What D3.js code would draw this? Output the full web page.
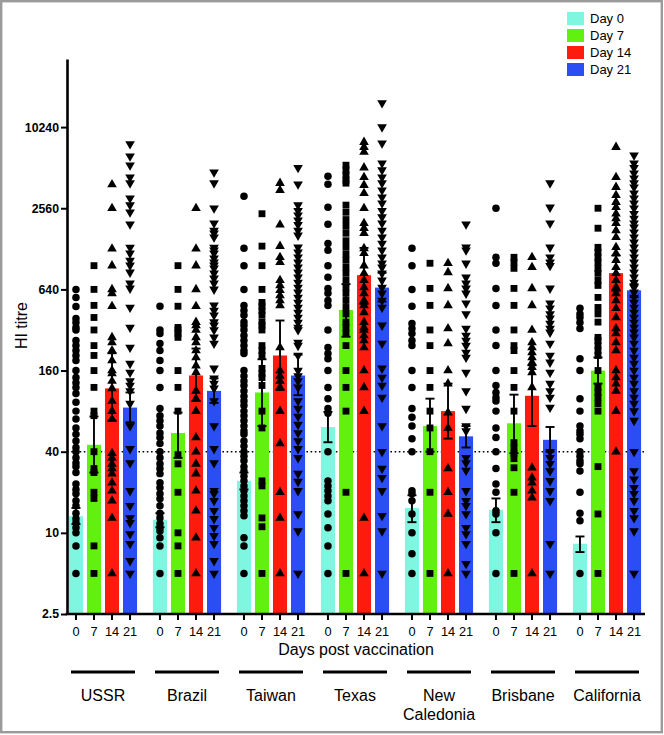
<!DOCTYPE html>
<html><head><meta charset="utf-8">
<script src="https://cdn.jsdelivr.net/npm/d3@7/dist/d3.min.js"></script>
<style>body{margin:0;background:#fff}svg{display:block;font-family:"Liberation Sans",Arial,sans-serif}</style>
</head><body><svg id="chart" width="664" height="735"></svg>
<script>
// ---------- data ----------
const strains = ["USSR", "Brazil", "Taiwan", "Texas", "New Caledonia", "Brisbane", "California"];
const days = ["0", "7", "14", "21"];
const dayLabels = ["Day 0", "Day 7", "Day 14", "Day 21"];
const dayColors = ["#7ff7e0", "#62f00e", "#fd1b0d", "#2a4df4"];
const yTicks = [2.5, 10, 40, 160, 640, 2560, 10240];
const threshold = 40;

// geometric mean titres per strain
const meanDay0  = [13.3, 12.5, 24.3, 61, 15.3, 14.8, 8.3];
const meanDay7  = [45, 55, 110, 450, 62, 65, 160];
const meanDay14 = [118, 147, 207, 815, 80, 104, 845];
const meanDay21 = [85, 113, 147, 660, 52, 49, 630];
// error bar ends
const hiDay0  = [15.3, 14, 28, 79, 19, 18, 9.4];
const loDay0  = [11.6, 11, 21, 47, 12, 12, 7.2];
const hiDay7  = [73, 78, 194, 700, 99, 106, 200];
const loDay7  = [28, 36, 62, 285, 40, 39, 128];
const hiDay14 = [215, 233, 376, 1300, 128, 175, 1140];
const loDay14 = [68, 95, 115, 500, 50, 62, 625];
const hiDay21 = [110, 140, 210, 850, 62, 61, 700];
const loDay21 = [66, 92, 105, 520, 43, 40, 560];

// individual titres [day0, day7, day14, day21]
const ussr = [
  [640,558,478,390,364,334,320,267,245,225,207,190,160,142,130,120,108,93,80,70,60,54,48,43,40,36,33,31,28,23,21,19.5,17.3,15.9,14,12.7,11.9,10.9,10,8,5],
  [960,640,487,396,320,245,207,160,120,80,74,40,30,28,20,18,8,5],
  [3840,2560,1280,960,640,598,480,282,258,225,190,160,152,134,118,95,80,70,39,36,32.5,30,27.5,23.5,20.5,17.3,12.9,5],
  [7680,6230,5340,4350,3930,3040,2700,2390,1950,1310,1185,1050,965,856,709,651,470,334,237,180,155,134,124,113,91,62,42,33,20.5,15.9,12.9,11.9,9.8,8.3,6.2,5]
];
const brazil = [
  [480,320,301,254,225,190,160,120,83.5,74,68,62,55,51,46,40,36,32.5,30,27.5,23.5,21.6,19.5,17.9,15.9,14,12.9,11.7,10.9,10.3,9.2,8,5],
  [960,640,480,334,320,301,282,160,120,80,38,32.5,20,10,8,5],
  [2560,1280,960,640,480,366,346,320,282,258,225,200,174,155,113,99,80,51,40,32.5,27.5,20.5,14.6,9.2,5],
  [4740,3930,2560,1980,1750,1670,1560,1310,1250,1185,1090,1016,965,917,842,773,709,640,487,446,412,366,346,320,282,254,166,140,128,118,95,62,42,33,20.5,19.5,17.3,14.6,12.7,10.9,9.5,8.3,6.2,5]
];
const taiwan = [
  [3140,1290,960,640,487,446,412,366,346,320,291,267,245,225,214,160,146,134,124,113,103,95,88,80,74,68,62,57,54,48,44,40,37,34.3,31,28.8,26.3,24.3,22.3,20.5,18.8,17.3,15.9,14.6,13.4,9.2,8,5],
  [2330,1340,960,640,512,480,446,412,366,346,320,245,225,207,166,152,142,124,80,60,24.3,22.3,12.9,11.1,5],
  [3930,3480,1930,1340,1107,1016,747,685,631,577,530,487,237,160,146,134,120,80,46,20,12.9,5],
  [5120,3860,2700,2454,2270,2084,1930,1748,1610,1313,1206,1107,1016,933,856,786,721,662,608,558,512,470,432,396,364,334,320,258,245,207,160,146,134,120,95,83.5,73,63.5,55,48,42,36,27.5,24,20.5,13.8,10.3,5]
];
const texas = [
  [4430,3860,2600,1950,1400,1250,960,786,651,598,530,487,320,237,214,196,160,120,99,83.5,77,40,24.3,22.3,20.5,18.8,17.3,13.8,10.9,8,5],
  [5340,4910,4510,4140,3930,2700,2390,2110,1880,1670,1470,1313,1165,1052,933,842,747,662,598,530,470,421,366,334,301,245,160,120,80,20,5],
  [7920,7270,6680,5120,4350,3800,3310,2560,1980,1820,1670,1290,1185,960,842,747,662,598,530,487,432,366,334,320,291,267,237,160,120,80,12.9,5],
  [15440,10240,7780,5520,4910,4350,3930,3480,3090,2790,2450,2200,1980,1750,1560,1400,1250,1107,999,933,842,747,662,598,530,470,346,254,166,142,124,101,62,40,30,25.6,20.5,13.4,10.3,5]
];
const newCaledonia = [
  [1290,960,640,480,357,328,301,267,245,160,120,83.5,72,62,50,40,20.5,19.5,17.3,13.8,10,7,5],
  [1000,651,487,320,245,160,120,80,60,40,20,5],
  [999,856,651,487,328,254,160,128,78,60,30,20,13.8,5],
  [1950,1313,1248,999,786,709,651,598,505,421,328,291,267,245,218,200,155,113,83.5,62,57,36,33,29,20.5,17.3,15.9,13.8,10.9,9.8,8.3,5.9,5]
];
const brisbane = [
  [2560,1107,999,651,487,320,245,160,124,110,101,95,80,60,51,40,30,23,20,14.6,13.8,10,5],
  [1107,1016,917,651,487,320,245,225,160,120,80,46.7,42.7,39,35.5,30.4,20,5],
  [1107,933,651,487,320,258,237,218,200,184,169,155,120,30.4,25.6,23.5,20.5,18.2,5],
  [3930,2600,1980,1313,1107,1016,960,651,505,464,421,390,357,328,307,254,207,184,155,128,113,101,85,40,36,32.5,28.8,24.3,20.5,17.3,8.3,5]
];
const california = [
  [464,421,396,364,328,196,160,99,80,62,57,54,50,40,37,34.3,32.5,28.8,20,14,12.3,5],
  [2560,1820,1313,1206,1107,1016,917,842,747,685,558,470,421,366,282,267,245,225,207,160,120,110,101,91,80,31,13.8,5],
  [7270,4350,3670,3200,2840,2600,2330,2150,1980,1750,1560,1313,1185,1052,933,842,747,662,598,530,464,396,328,301,258,225,160,142,128,113,80,40],
  [6340,5520,5120,4660,4280,3930,3670,3310,3040,2790,2560,2330,2150,1980,1850,1700,1560,1430,1313,1206,1107,1016,933,856,786,721,662,608,558,512,470,432,396,364,334,307,282,254,225,200,180,160,142,128,113,101,91,80,68,40,28.8,25,21.6,19.5,17.3,14.6,12.9,10.3,5]
];

// ---------- assemble ----------
const individual = [ussr, brazil, taiwan, texas, newCaledonia, brisbane, california];
const means = [meanDay0, meanDay7, meanDay14, meanDay21];
const his = [hiDay0, hiDay7, hiDay14, hiDay21];
const los = [loDay0, loDay7, loDay14, loDay21];
const rows = [];
strains.forEach((s, i) => days.forEach((d, j) => rows.push({
  strain: s, day: d, di: j, mean: means[j][i], hi: his[j][i], lo: los[j][i], pts: individual[i][j]
})));

// ---------- layout ----------
const svg = d3.select("#chart");
const axisX = 67, axisRight = 645;
const y = d3.scaleLog().base(2).domain([2.5, 32768]).range([614, 59]);
const xg = d3.scaleBand().domain(strains).range([61, 649]).padding(0);
const xd = d3.scaleBand().domain(days).range([0, xg.bandwidth()]).paddingInner(0.22).paddingOuter(0.44);
const cx = r => xg(r.strain) + xd(r.day) + xd.bandwidth() / 2;

// frame
svg.append("rect").attr("x", 1.2).attr("y", 1.2).attr("width", 660.6).attr("height", 731)
  .attr("fill", "none").attr("stroke", "#9b9b9b").attr("stroke-width", 2.4);

// threshold dotted line
svg.append("line").attr("x1", axisX).attr("x2", axisRight)
  .attr("y1", y(threshold)).attr("y2", y(threshold))
  .attr("stroke", "#000").attr("stroke-width", 1.6).attr("stroke-dasharray", "1.6,2.6");

// bars
svg.append("g").selectAll("rect").data(rows).join("rect")
  .attr("x", r => xg(r.strain) + xd(r.day))
  .attr("width", xd.bandwidth())
  .attr("y", r => y(r.mean))
  .attr("height", r => y(2.5) - y(r.mean))
  .attr("fill", r => dayColors[r.di]);

// individual points
const shapes = [d3.symbolCircle, d3.symbolSquare, d3.symbolTriangle, d3.symbolTriangle];
const sizes = [44, 47, 40, 40];
const pts = rows.flatMap(r => r.pts.map(v => ({ r, v })));
svg.append("g").selectAll("path").data(pts).join("path")
  .attr("d", p => d3.symbol(shapes[p.r.di], sizes[p.r.di])())
  .attr("transform", p => `translate(${cx(p.r)},${y(p.v)})` + (p.r.di === 3 ? " rotate(180)" : ""))
  .attr("fill", "#000");

// error bars
const eb = svg.append("g").attr("stroke", "#000").attr("stroke-width", 1.9).attr("fill", "none");
rows.forEach(r => {
  const x0 = cx(r);
  eb.append("line").attr("x1", x0).attr("x2", x0).attr("y1", y(r.hi)).attr("y2", y(r.lo));
  [r.hi, r.lo].forEach(v => eb.append("line").attr("x1", x0 - 4.5).attr("x2", x0 + 4.5).attr("y1", y(v)).attr("y2", y(v)));
});

// y axis
const yAxis = svg.append("g").attr("transform", `translate(${axisX},0)`)
  .call(d3.axisLeft(y).tickValues(yTicks).tickFormat(d => d).tickSize(6).tickSizeOuter(0));
yAxis.select(".domain").attr("stroke-width", 2.6);
yAxis.selectAll(".tick line").attr("stroke-width", 2);
yAxis.selectAll(".tick text").attr("font-size", 12.3).attr("font-weight", "bold")
  .attr("font-family", "Liberation Sans, Arial, sans-serif").attr("x", -8).attr("fill", "#000");

svg.append("text").attr("transform", `translate(27,${y(160) - 45}) rotate(-90)`)
  .attr("text-anchor", "middle").attr("font-size", 16).text("HI titre");

// x axis
const xa = svg.append("g");
xa.append("line").attr("x1", axisX - 1.3).attr("x2", axisRight).attr("y1", y(2.5)).attr("y2", y(2.5))
  .attr("stroke", "#000").attr("stroke-width", 2.6);
xa.selectAll("line.tk").data(rows).join("line").attr("class", "tk")
  .attr("x1", cx).attr("x2", cx).attr("y1", y(2.5)).attr("y2", y(2.5) + 6)
  .attr("stroke", "#000").attr("stroke-width", 2);
xa.selectAll("text.tl").data(rows).join("text").attr("class", "tl")
  .attr("x", cx).attr("y", y(2.5) + 22).attr("text-anchor", "middle")
  .attr("font-size", 12.8).text(r => r.day);

svg.append("text").attr("x", (axisX + axisRight) / 2).attr("y", 655)
  .attr("text-anchor", "middle").attr("font-size", 16).text("Days post vaccination");

// strain group lines & labels
const gl = svg.append("g");
strains.forEach(s => {
  const c = xg(s) + xg.bandwidth() / 2;
  gl.append("line").attr("x1", c - 32).attr("x2", c + 32).attr("y1", 672).attr("y2", 672)
    .attr("stroke", "#000").attr("stroke-width", 3);
  const words = s === "New Caledonia" ? ["New", "Caledonia"] : [s];
  words.forEach((w, k) => gl.append("text").attr("x", c).attr("y", 701 + k * 19)
    .attr("text-anchor", "middle").attr("font-size", 16).text(w));
});

// legend
const lg = svg.append("g");
dayLabels.forEach((t, i) => {
  lg.append("rect").attr("x", 567).attr("y", 12 + i * 17).attr("width", 17).attr("height", 13)
    .attr("fill", dayColors[i]);
  lg.append("text").attr("x", 590).attr("y", 23 + i * 17).attr("font-size", 13).text(t);
});
</script></body></html>
